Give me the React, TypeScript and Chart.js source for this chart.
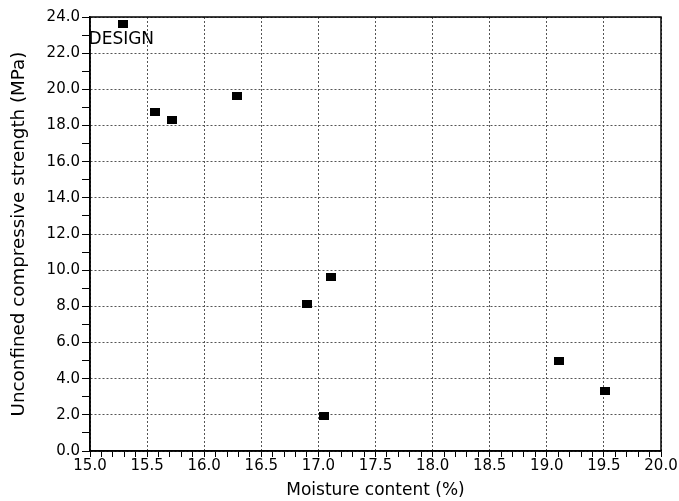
import React, { useEffect, useRef } from "react";
import { Chart, registerables } from "chart.js";

Chart.register(...registerables);

const moisture: number[] = [15.285, 15.565, 15.715, 16.29, 16.896, 17.106, 17.053, 19.105, 19.514];
const strength: number[] = [23.59, 18.77, 18.29, 19.64, 8.14, 9.6, 1.94, 4.96, 3.33];
const annotationText = "DESIGN";
const xTitle = "Moisture content (%)";
const yTitle = "Unconfined compressive strength (MPa)";

const FONT = "'DejaVu Sans', sans-serif";

export default function App() {
  const ref = useRef<HTMLCanvasElement | null>(null);

  useEffect(() => {
    const canvas = ref.current;
    if (!canvas) return;

    const marker = document.createElement("canvas");
    marker.width = 10;
    marker.height = 8;
    const mctx = marker.getContext("2d")!;
    mctx.fillStyle = "#000";
    mctx.fillRect(0, 0, 10, 8);

    const isMajorX = (v: number) => Math.abs(v * 2 - Math.round(v * 2)) < 1e-6;
    const isMajorY = (v: number) => Math.abs(v / 2 - Math.round(v / 2)) < 1e-6;

    const frame = {
      id: "frame",
      afterDraw(chart: any) {
        const { ctx, chartArea } = chart;
        ctx.save();
        ctx.strokeStyle = "#000";
        ctx.lineWidth = 1.5;
        ctx.strokeRect(chartArea.left, chartArea.top, chartArea.right - chartArea.left, chartArea.bottom - chartArea.top);
        ctx.restore();
      },
      afterDatasetsDraw(chart: any) {
        const meta = chart.getDatasetMeta(0);
        const el = meta.data[0];
        if (!el) return;
        const ctx = chart.ctx;
        ctx.save();
        ctx.fillStyle = "#000";
        ctx.font = `17px ${FONT}`;
        ctx.textAlign = "left";
        ctx.textBaseline = "middle";
        ctx.fillText(annotationText, el.x - 34, el.y + 15);
        ctx.restore();
      },
    };

    const chart = new Chart(canvas, {
      type: "scatter",
      data: {
        datasets: [
          {
            data: moisture.map((x, i) => ({ x, y: strength[i] })),
            pointStyle: marker as any,
            backgroundColor: "#000",
            borderColor: "#000",
          },
        ],
      },
      options: {
        animation: false,
        responsive: false,
        events: [],
        layout: { padding: { left: 0, top: 17, right: 18, bottom: 0 } },
        plugins: { legend: { display: false }, tooltip: { enabled: false } },
        scales: {
          x: {
            type: "linear",
            min: 15,
            max: 20,
            afterFit(scale: any) {
              scale.height = 50;
            },
            ticks: {
              stepSize: 0.1,
              autoSkip: false,
              maxRotation: 0,
              padding: 0,
              color: "#000",
              font: { family: FONT, size: 15 },
              callback: (v: any) => (isMajorX(Number(v)) ? Number(v).toFixed(1) : ""),
            },
            grid: {
              color: (c: any) => (c.tick && isMajorX(c.tick.value) ? "#555" : "rgba(0,0,0,0)"),
              lineWidth: 1,
              tickColor: "#000",
              tickLength: 6,
              tickWidth: 1,
            },
            border: { display: true, color: "#000", width: 1.5, dash: [2, 2] },
            title: {
              display: true,
              text: xTitle,
              color: "#000",
              font: { family: FONT, size: 17 },
              padding: { top: 0, bottom: 0 },
            },
          },
          y: {
            type: "linear",
            min: 0,
            max: 24,
            afterFit(scale: any) {
              scale.width = 90;
            },
            ticks: {
              stepSize: 1,
              autoSkip: false,
              padding: 2,
              color: "#000",
              font: { family: FONT, size: 15 },
              callback: (v: any) => (isMajorY(Number(v)) ? Number(v).toFixed(1) : ""),
            },
            grid: {
              color: (c: any) => (c.tick && isMajorY(c.tick.value) ? "#555" : "rgba(0,0,0,0)"),
              lineWidth: 1,
              tickColor: "#000",
              tickLength: 8,
              tickWidth: 1,
            },
            border: { display: true, color: "#000", width: 1.5, dash: [2, 2] },
            title: {
              display: true,
              text: yTitle,
              color: "#000",
              font: { family: FONT, size: 18.3 },
              padding: { top: 8, bottom: 0 },
            },
          },
        },
      },
      plugins: [frame],
    });

    return () => chart.destroy();
  }, []);

  return (
    <div style={{ position: "absolute", left: 0, top: 0, width: 679, height: 501, background: "#fff" }}>
      <canvas ref={ref} width={679} height={501} style={{ display: "block" }} />
    </div>
  );
}
